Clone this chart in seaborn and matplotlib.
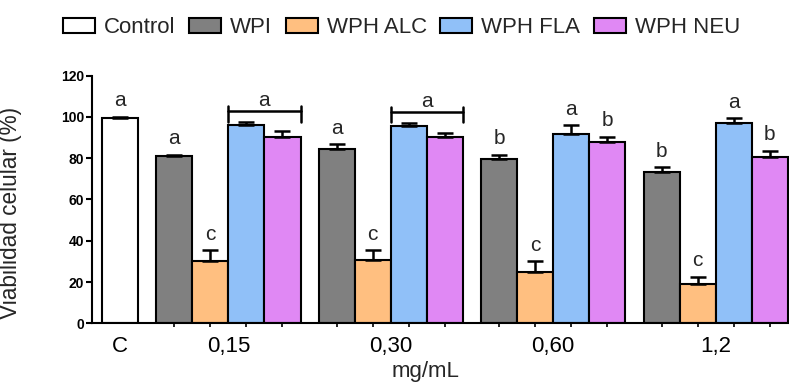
import numpy as np
import pandas as pd
import matplotlib
matplotlib.use("Agg")
import matplotlib.pyplot as plt
import seaborn as sns
from matplotlib.patches import Patch

# DATA (viabilidad celular, %)
categories = ["C", "0,15", "0,30", "0,60", "1,2"]
series = ["Control", "WPI", "WPH ALC", "WPH FLA", "WPH NEU"]
colors = ["#FFFFFF", "#808080", "#FFBF80", "#90C0F8", "#E088F4"]

control_mean = [99.7]
control_err = [0.4]
control_letters = ["a"]

wpi_mean = [81.3, 84.4, 79.7, 73.5]
wpi_err = [0.5, 2.3, 2.1, 2.3]
wpi_letters = ["a", "a", "b", "b"]

alc_mean = [30.4, 30.9, 24.9, 19.0]
alc_err = [5.0, 4.4, 5.3, 3.6]
alc_letters = ["c", "c", "c", "c"]

fla_mean = [95.9, 95.4, 91.7, 97.2]
fla_err = [1.5, 1.8, 4.2, 2.3]
fla_letters = ["", "", "a", "a"]

neu_mean = [90.1, 90.5, 87.8, 80.5]
neu_err = [3.1, 1.8, 2.7, 3.1]
neu_letters = ["", "", "b", "b"]

bracket_groups = [0, 1]
bracket_letter = "a"

# TABLE
rows = [{"pos": 0.0, "valor": control_mean[0], "err": control_err[0],
         "serie": "Control", "letra": control_letters[0]}]
treat = [(wpi_mean, wpi_err, wpi_letters),
         (alc_mean, alc_err, alc_letters),
         (fla_mean, fla_err, fla_letters),
         (neu_mean, neu_err, neu_letters)]
for g in range(4):
    for j, (m, e, l) in enumerate(treat):
        rows.append({"pos": 1.5 + 4.5 * g + j, "valor": m[g], "err": e[g],
                     "serie": series[j + 1], "letra": l[g]})
df = pd.DataFrame(rows)

# STYLE
sns.set_style("ticks", {"axes.edgecolor": "black", "xtick.color": "black",
                        "ytick.color": "black"})
plt.rcParams["font.family"] = ["Liberation Sans", "DejaVu Sans"]

fig = plt.figure(figsize=(7.89, 3.87), dpi=100)
ax = fig.add_axes([92 / 789, 0.1646, 697 / 789, 0.6398])

sns.barplot(data=df, x="pos", y="valor", hue="serie", hue_order=series,
            palette=dict(zip(series, colors)), saturation=1,
            native_scale=True, width=1, dodge=False, errorbar=None,
            edgecolor="black", linewidth=1.5, legend=False, ax=ax, zorder=2)

# error bars (solo hacia arriba)
ax.errorbar(df["pos"], df["valor"], yerr=[np.zeros(len(df)), df["err"]],
            fmt="none", ecolor="black", elinewidth=1.8, capsize=6,
            capthick=1.8, zorder=3)

# letras
for _, r in df.iterrows():
    if r["letra"]:
        ax.text(r["pos"], r["valor"] + r["err"] + 5, r["letra"],
                ha="center", va="baseline", fontsize=15)

# corchetes FLA-NEU
for g in bracket_groups:
    sub = df[(df["pos"] >= 1.5 + 4.5 * g + 2) & (df["pos"] <= 1.5 + 4.5 * g + 3)]
    x0 = sub["pos"].min() - 0.5
    x1 = sub["pos"].max() + 0.5
    yb = (sub["valor"] + sub["err"]).max() + 5.3
    ax.plot([x0, x1], [yb, yb], color="black", lw=1.8, zorder=4)
    ax.plot([x0, x0], [yb - 5, yb + 2.5], color="black", lw=1.8, zorder=4)
    ax.plot([x1, x1], [yb - 5, yb + 2.5], color="black", lw=1.8, zorder=4)
    ax.text((x0 + x1) / 2, yb + 2.5, bracket_letter, ha="center",
            va="baseline", fontsize=15)

# EJES
centers = [0] + [3 + 4.5 * g for g in range(4)]
ax.set_xticks(centers)
ax.set_xticklabels(categories, fontsize=16)
ax.set_xticks(df["pos"], minor=True)
ax.tick_params(axis="x", which="major", length=0, pad=9)
ax.tick_params(axis="x", which="minor", length=3, width=1.2)
ax.set_xlim(-0.776, 18.53)

ax.set_ylim(0, 120)
ax.set_yticks(np.arange(0, 121, 20))
ax.tick_params(axis="y", length=4, width=1.5, pad=1.5, labelsize=10)
for lab in ax.get_yticklabels():
    lab.set_fontweight("bold")

sns.despine(ax=ax)
for s in ["left", "bottom"]:
    ax.spines[s].set_linewidth(1.5)

ax.set_xlabel("mg/mL", fontsize=16)
ax.xaxis.set_label_coords(0.478, -0.152)
ax.xaxis.label.set_va("top")
ax.set_ylabel("Viabilidad celular (%)", fontsize=16.3)
ax.yaxis.set_label_coords(-0.1, 0.445)

handles = [Patch(facecolor=c, edgecolor="black", linewidth=1.5) for c in colors]
fig.legend(handles, series, loc="center", bbox_to_anchor=(0.509, 0.928),
           ncol=5, frameon=False, fontsize=16, handlelength=1.45,
           handleheight=0.65, handletextpad=0.4, columnspacing=0.6,
           borderaxespad=0, borderpad=0)

fig.savefig("out.png", dpi=100)
